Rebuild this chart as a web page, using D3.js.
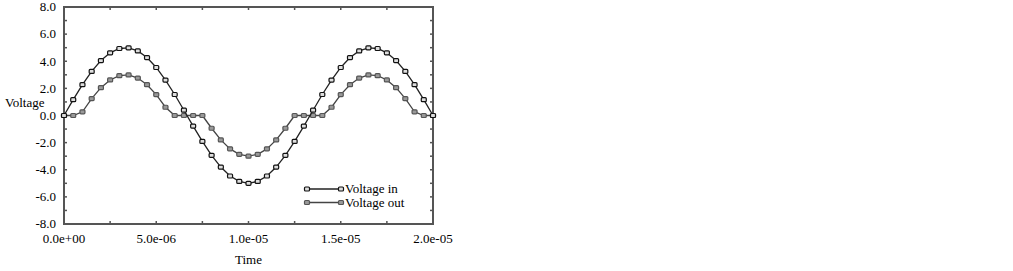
<!DOCTYPE html>
<html>
<head>
<meta charset="utf-8">
<script src="https://cdn.jsdelivr.net/npm/d3@7"></script>
<style>
  body { margin: 0; background: #fff; }
  svg text { font-family: "Liberation Serif", "Times New Roman", Times, serif; font-size: 13px; fill: #000; }
</style>
</head>
<body>
<div id="chart"></div>
<script>
// sample times (s), 0 .. 2e-5 in 0.5 us steps
const times = [0, 5e-7, 1e-6, 1.5e-6, 2e-6, 2.5e-6, 3e-6, 3.5e-6, 4e-6, 4.5e-6,
  5e-6, 5.5e-6, 6e-6, 6.5e-6, 7e-6, 7.5e-6, 8e-6, 8.5e-6, 9e-6, 9.5e-6,
  1e-5, 1.05e-5, 1.1e-5, 1.15e-5, 1.2e-5, 1.25e-5, 1.3e-5, 1.35e-5, 1.4e-5, 1.45e-5,
  1.5e-5, 1.55e-5, 1.6e-5, 1.65e-5, 1.7e-5, 1.75e-5, 1.8e-5, 1.85e-5, 1.9e-5, 1.95e-5, 2e-5];
const voltageIn = [0, 1.17, 2.27, 3.25, 4.05, 4.62, 4.94, 4.99, 4.76, 4.27,
  3.54, 2.61, 1.55, 0.39, -0.78, -1.91, -2.94, -3.80, -4.46, -4.86,
  -5.0, -4.86, -4.46, -3.80, -2.94, -1.91, -0.78, 0.39, 1.55, 2.61,
  3.54, 4.27, 4.76, 4.99, 4.94, 4.62, 4.05, 3.25, 2.27, 1.17, 0];
const voltageOut = [0, 0, 0.27, 1.25, 2.05, 2.62, 2.94, 2.99, 2.76, 2.27,
  1.54, 0.61, 0, 0, 0, 0, -0.94, -1.80, -2.46, -2.86,
  -3.0, -2.86, -2.46, -1.80, -0.94, 0, 0, 0, 0, 0.61,
  1.54, 2.27, 2.76, 2.99, 2.94, 2.62, 2.05, 1.25, 0.27, 0, 0];
const xTicks = [0, 5e-6, 1e-5, 1.5e-5, 2e-5];
const xTickLabels = ["0.0e+00", "5.0e-06", "1.0e-05", "1.5e-05", "2.0e-05"];
const yTicks = [-8, -6, -4, -2, 0, 2, 4, 6, 8];
const seriesNames = ["Voltage in", "Voltage out"];

const width = 1013, height = 271;
const margin = {top: 7, right: 580, bottom: 47, left: 64};
const w = width - margin.left - margin.right;
const h = height - margin.top - margin.bottom;

const svg = d3.select("#chart").append("svg")
  .attr("width", width).attr("height", height);
const g = svg.append("g").attr("transform", `translate(${margin.left},${margin.top})`);

const x = d3.scaleLinear().domain([0, 2e-5]).range([0, w]);
const y = d3.scaleLinear().domain([-8, 8]).range([h, 0]);

const frameColor = "#555";

// minor ticks, inward on all four sides
const xMinor = d3.range(0, 2e-5 + 1e-9, 2.5e-6);
const yMinor = d3.range(-8, 8.01, 1);
const ticks = g.append("g").attr("stroke", frameColor).attr("stroke-width", 1.5);
xMinor.forEach(t => {
  ticks.append("line").attr("x1", x(t)).attr("x2", x(t)).attr("y1", h).attr("y2", h - 3);
  ticks.append("line").attr("x1", x(t)).attr("x2", x(t)).attr("y1", 0).attr("y2", 3);
});
yMinor.forEach(v => {
  ticks.append("line").attr("x1", 0).attr("x2", 3).attr("y1", y(v)).attr("y2", y(v));
  ticks.append("line").attr("x1", w).attr("x2", w - 3).attr("y1", y(v)).attr("y2", y(v));
});

// frame
g.append("rect").attr("width", w).attr("height", h)
  .attr("fill", "none").attr("stroke", frameColor).attr("stroke-width", 2);

// tick labels (plain hyphen for minus, as in the original)
g.append("g").selectAll("text").data(yTicks).enter().append("text")
  .attr("x", -8).attr("y", d => y(d)).attr("dy", "0.33em")
  .attr("text-anchor", "end")
  .text(d => d.toFixed(1));
g.append("g").selectAll("text").data(xTicks).enter().append("text")
  .attr("x", d => x(d)).attr("y", h + 19)
  .attr("text-anchor", "middle")
  .text((d, i) => xTickLabels[i]);

// axis titles
svg.append("text").attr("x", 5).attr("y", 107).text("Voltage");
svg.append("text").attr("x", margin.left + w / 2).attr("y", 264)
  .attr("text-anchor", "middle").text("Time");

// series
const series = [
  {name: seriesNames[0], values: voltageIn, stroke: "#222", mark: "#111", fill: "#ddd"},
  {name: seriesNames[1], values: voltageOut, stroke: "#444", mark: "#555", fill: "#999"}
];
const line = d3.line().x((d, i) => x(times[i])).y(d => y(d));

function marker(sel, s) {
  sel.attr("width", 5).attr("height", 4).attr("rx", 1)
    .attr("fill", s.fill).attr("stroke", s.mark).attr("stroke-width", 1.2);
}

series.slice().reverse().forEach(s => {
  g.append("path").datum(s.values)
    .attr("fill", "none").attr("stroke", s.stroke).attr("stroke-width", 1.3)
    .attr("d", line);
  g.append("g").selectAll("rect").data(s.values).enter().append("rect")
    .attr("x", (d, i) => x(times[i]) - 2.5).attr("y", d => y(d) - 2)
    .call(marker, s);
});

// legend
const legend = g.append("g").attr("transform", `translate(${243},${182})`);
series.forEach((s, i) => {
  const row = legend.append("g").attr("transform", `translate(0,${i * 13.5})`);
  row.append("line").attr("x1", 0).attr("x2", 34)
    .attr("stroke", s.stroke).attr("stroke-width", 1.3);
  [0, 34].forEach(px => row.append("rect").attr("x", px - 2.5).attr("y", -2).call(marker, s));
  row.append("text").attr("x", 38).attr("dy", "0.33em").text(s.name);
});
</script>
</body>
</html>
